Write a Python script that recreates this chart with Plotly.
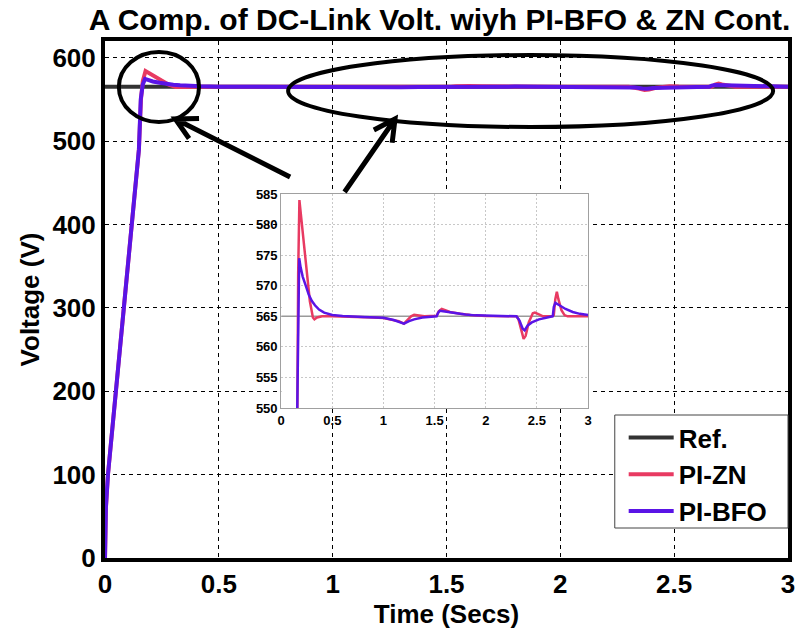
import numpy as np
import plotly.graph_objects as go

# ---------------- data ----------------
t_ref = [0.0, 3.0]
v_ref = [565.0, 565.0]

t_zn = [0, 0.004, 0.013, 0.05, 0.088, 0.123, 0.149, 0.158, 0.166, 0.178, 0.20, 0.22, 0.25, 0.28,
        0.31, 0.325, 0.35, 0.40, 0.5, 0.7, 0.9, 1.0, 1.1, 1.15, 1.2, 1.23, 1.27, 1.30, 1.34, 1.40,
        1.52, 1.54, 1.57, 1.60, 1.65, 1.75, 1.85, 2.0, 2.30, 2.32, 2.345, 2.37, 2.39, 2.42, 2.46,
        2.48, 2.52, 2.56, 2.65, 2.665, 2.68, 2.695, 2.71, 2.74, 2.77, 2.80, 3.0]
v_zn = [0, 60, 100, 205, 310, 410, 490, 550, 572, 584, 580.5, 576.5, 571.5, 567.5,
        564.8, 564.5, 564.8, 565.0, 565.0, 564.95, 564.8, 564.7, 564.4, 564.2, 563.8, 564.3, 565.0, 565.25, 565.1, 565.0,
        565.1, 565.8, 566.2, 566.0, 565.7, 565.4, 565.2, 565.05, 565.0, 564.5, 563.0, 561.3, 561.8, 564.0, 565.5,
        565.6, 565.3, 565.0, 565.0, 565.2, 567.8, 569.0, 567.8, 566.0, 565.2, 565.0, 565.0]

t_bfo = [0, 0.004, 0.013, 0.05, 0.088, 0.123, 0.149, 0.157, 0.166, 0.176, 0.19, 0.21, 0.24, 0.27,
         0.30, 0.33, 0.37, 0.42, 0.5, 0.6, 0.8, 1.0, 1.1, 1.2, 1.25, 1.30, 1.38, 1.45, 1.52, 1.535,
         1.55, 1.60, 1.70, 1.80, 1.90, 2.0, 2.30, 2.33, 2.36, 2.38, 2.41, 2.45, 2.52, 2.60, 2.655,
         2.665, 2.68, 2.72, 2.78, 2.85, 2.92, 3.0]
v_bfo = [0, 60, 100, 205, 310, 410, 490, 550, 568, 574.5, 573, 571.5, 570, 568.5,
         567.5, 566.8, 566.1, 565.6, 565.2, 565.05, 564.9, 564.75, 564.4, 563.8, 564.2, 564.5, 564.8, 564.95, 565.0, 565.6,
         565.9, 565.8, 565.5, 565.3, 565.15, 565.1, 565.0, 564.3, 563.0, 562.7, 563.5, 564.0, 564.5, 564.8, 565.0,
         566.5, 567.2, 566.8, 566.2, 565.7, 565.4, 565.2]

main_xticks = [0, 0.5, 1, 1.5, 2, 2.5, 3]
main_xticklabels = ["0", "0.5", "1", "1.5", "2", "2.5", "3"]
main_yticks = [0, 100, 200, 300, 400, 500, 600]
inset_xticks = [0, 0.5, 1, 1.5, 2, 2.5, 3]
inset_yticks = [550, 555, 560, 565, 570, 575, 580, 585]

C_REF = "#333333"
C_ZN = "#E83A62"
C_BFO = "#5A14E6"

W, H = 805, 636
L, R, T, B = 105, 10, 41, 78
PW, PH = W - L - R, H - T - B


def px(x):
    return (x - L) / PW


def py(y):
    return (H - B - y) / PH


FONT = "Liberation Sans"

fig = go.Figure()
# main traces
fig.add_trace(go.Scatter(x=t_ref, y=v_ref, mode="lines", name="Ref.",
                         line=dict(color=C_REF, width=4), xaxis="x", yaxis="y"))
fig.add_trace(go.Scatter(x=t_zn, y=v_zn, mode="lines", name="PI-ZN",
                         line=dict(color=C_ZN, width=4), xaxis="x", yaxis="y"))
fig.add_trace(go.Scatter(x=t_bfo, y=v_bfo, mode="lines", name="PI-BFO",
                         line=dict(color=C_BFO, width=4), xaxis="x", yaxis="y"))
# inset traces
fig.add_trace(go.Scatter(x=t_ref, y=v_ref, mode="lines", showlegend=False,
                         line=dict(color="#9a9a9a", width=1.5), xaxis="x2", yaxis="y2"))
fig.add_trace(go.Scatter(x=t_zn, y=v_zn, mode="lines", showlegend=False,
                         line=dict(color=C_ZN, width=2.5), xaxis="x2", yaxis="y2"))
fig.add_trace(go.Scatter(x=t_bfo, y=v_bfo, mode="lines", showlegend=False,
                         line=dict(color=C_BFO, width=2.5), xaxis="x2", yaxis="y2"))

shapes = []
# inset white background (covers main grid)
shapes.append(dict(type="rect", xref="x2 domain", yref="y2 domain",
                   x0=-0.11, x1=1.03, y0=-0.1, y1=1.03,
                   fillcolor="white", line=dict(width=0), layer="below"))
# legend box
shapes.append(dict(type="rect", xref="paper", yref="paper",
                   x0=px(620), x1=px(795), y0=py(528), y1=py(415),
                   fillcolor="white", line=dict(color="#444", width=1), layer="above"))
# ellipses
shapes.append(dict(type="circle", xref="paper", yref="paper",
                   x0=px(119), x1=px(200), y0=py(122), y1=py(52),
                   line=dict(color="black", width=4)))
shapes.append(dict(type="circle", xref="paper", yref="paper",
                   x0=px(290), x1=px(780), y0=py(127), y1=py(55),
                   line=dict(color="black", width=4)))


def arrow(tail, head, wing=24, ang=28):
    tx, ty = tail
    hx, hy = head
    d = np.array([tx - hx, ty - hy], dtype=float)
    d /= np.hypot(*d)
    pts = []
    for s in (1, -1):
        a = np.deg2rad(ang * s)
        rot = np.array([[np.cos(a), -np.sin(a)], [np.sin(a), np.cos(a)]])
        w = rot @ d * wing
        pts.append((hx + w[0], hy + w[1]))
    path = (f"M {px(tx)},{py(ty)} L {px(hx)},{py(hy)} "
            f"M {px(pts[0][0])},{py(pts[0][1])} L {px(hx)},{py(hy)} L {px(pts[1][0])},{py(pts[1][1])}")
    return dict(type="path", xref="paper", yref="paper", path=path,
                line=dict(color="black", width=5))


shapes.append(arrow((292, 177), (176, 119)))
shapes.append(arrow((347, 192), (398, 119)))

fig.update_layout(
    width=W, height=H,
    margin=dict(l=L, r=R, t=T, b=B),
    paper_bgcolor="white", plot_bgcolor="white",
    font=dict(family=FONT, color="black"),
    title=dict(text="A Comp. of DC-Link Volt. wiyh PI-BFO & ZN Cont.",
               x=px(443), xref="paper", xanchor="center",
               y=1 - 19 / H, yref="container", yanchor="middle",
               font=dict(size=30, family=FONT, weight="bold", color="black")),
    showlegend=True,
    legend=dict(x=px(629), y=py(414), xanchor="left", yanchor="top",
                bgcolor="rgba(0,0,0,0)", borderwidth=0,
                font=dict(size=26, family=FONT, weight="bold", color="black"),
                itemwidth=45, tracegroupgap=0),
    shapes=shapes,
    xaxis=dict(range=[0, 3], tickvals=main_xticks, ticktext=main_xticklabels,
               showline=True, mirror=True, linecolor="black", linewidth=4,
               showgrid=True, gridcolor="black", gridwidth=1, griddash="4px,4px",
               zeroline=False, ticks="",
               tickfont=dict(size=26, family=FONT, weight="bold"),
               title=dict(text="Time (Secs)", standoff=6,
                          font=dict(size=26, family=FONT, weight="bold"))),
    yaxis=dict(range=[0, 620], tickvals=main_yticks,
               showline=True, mirror=True, linecolor="black", linewidth=4,
               showgrid=True, gridcolor="black", gridwidth=1, griddash="4px,4px",
               zeroline=False, ticks="",
               tickfont=dict(size=26, family=FONT, weight="bold"),
               title=dict(text="Voltage (V)", standoff=6,
                          font=dict(size=26, family=FONT, weight="bold"))),
    xaxis2=dict(domain=[px(283), px(593)], anchor="y2", range=[0, 3], tickvals=inset_xticks,
                showline=True, mirror=True, linecolor="#a0a0a0", linewidth=1,
                showgrid=True, gridcolor="#c8c8c8", gridwidth=1, griddash="2px,2px",
                zeroline=False, ticks="",
                tickfont=dict(size=13, family=FONT, weight="bold")),
    yaxis2=dict(domain=[py(408), py(194)], anchor="x2", range=[550, 585], tickvals=inset_yticks,
                showline=True, mirror=True, linecolor="#a0a0a0", linewidth=1,
                showgrid=True, gridcolor="#c8c8c8", gridwidth=1, griddash="2px,2px",
                zeroline=False, ticks="",
                tickfont=dict(size=13, family=FONT, weight="bold")),
)

fig.write_html("out.html")
